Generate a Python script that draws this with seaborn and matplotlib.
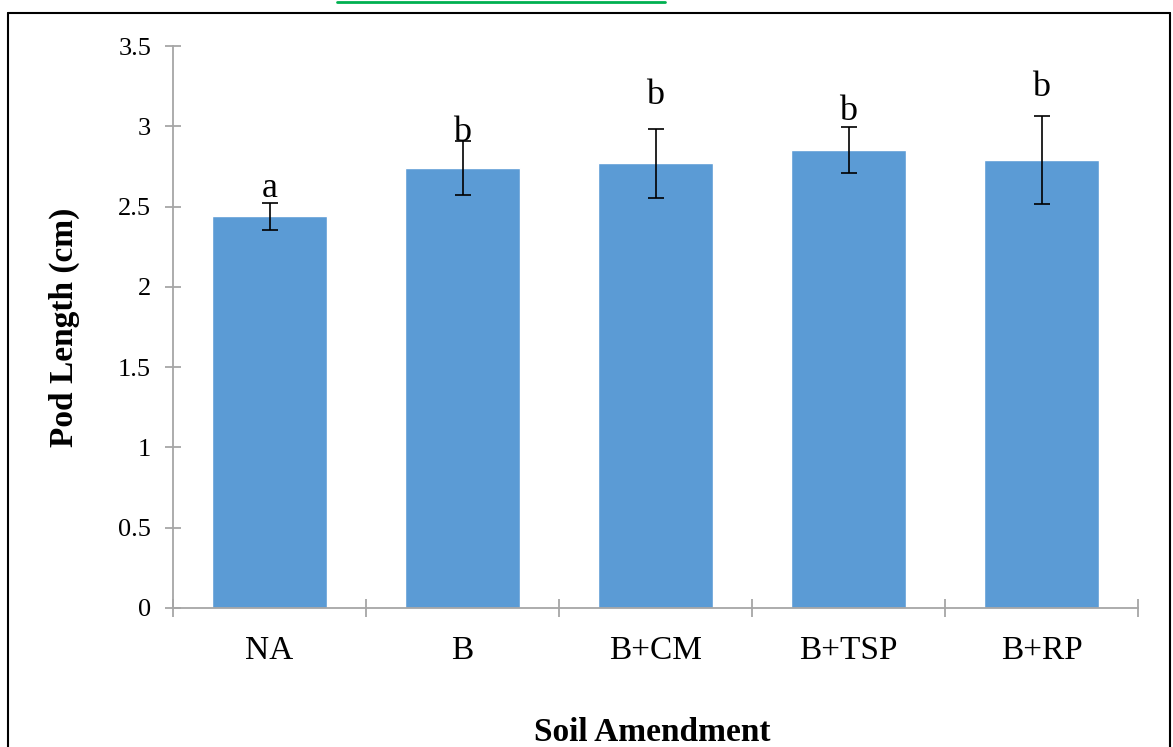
import matplotlib
matplotlib.use("Agg")
import matplotlib.pyplot as plt
from matplotlib.lines import Line2D
import seaborn as sns
import pandas as pd

# Pod length by soil amendment (mean ± error)
amendments = ["NA", "B", "B+CM", "B+TSP", "B+RP"]
pod_length = [2.44, 2.74, 2.77, 2.85, 2.79]
pod_error = [0.085, 0.17, 0.215, 0.143, 0.272]
letters = ["a", "b", "b", "b", "b"]
letter_y = [2.56, 2.91, 3.14, 3.04, 3.19]

sns.set_theme(style="white")
plt.rcParams["font.family"] = ["Liberation Serif", "DejaVu Serif"]
plt.rcParams["text.color"] = "black"
plt.rcParams["xtick.labelcolor"] = "black"
plt.rcParams["ytick.labelcolor"] = "black"

df = pd.DataFrame({"Soil Amendment": amendments, "Pod Length (cm)": pod_length})

fig = plt.figure(figsize=(11.73, 7.47), dpi=100)
ax = fig.add_axes([0.1475, 0.1861, 0.8227, 0.7523])

sns.barplot(data=df, x="Soil Amendment", y="Pod Length (cm)", color="#5b9bd5",
            saturation=1, width=0.6, errorbar=None, ax=ax)
ax.errorbar(range(len(amendments)), pod_length, yerr=pod_error, fmt="none",
            ecolor="black", elinewidth=1.2, capsize=6, capthick=1.2)

for i, (lab, yy) in enumerate(zip(letters, letter_y)):
    ax.text(i, yy, lab, ha="center", va="baseline", fontsize=26, color="black")

ax.set_xlim(-0.5, len(amendments) - 0.5)
ax.set_ylim(0, 3.5)
ax.set_yticks([0, 0.5, 1, 1.5, 2, 2.5, 3, 3.5])
ax.set_yticklabels(["0", "0.5", "1", "1.5", "2", "2.5", "3", "3.5"], fontsize=19)
ax.set_xticks(range(len(amendments)))
ax.set_xticklabels(amendments, fontsize=24)
ax.set_xticks([i - 0.5 for i in range(len(amendments) + 1)], minor=True)

axis_gray = "#a6a6a6"
for side in ["top", "right"]:
    ax.spines[side].set_visible(False)
for side in ["left", "bottom"]:
    ax.spines[side].set_color(axis_gray)
    ax.spines[side].set_linewidth(1.3)

ax.tick_params(axis="y", which="major", direction="inout", length=11.5, width=1.3,
               color=axis_gray, pad=10, left=True, labelcolor="black")
ax.tick_params(axis="x", which="major", length=0, pad=20, labelcolor="black")
ax.tick_params(axis="x", which="minor", direction="inout", length=13, width=1.3,
               color=axis_gray, bottom=True)

ax.set_xlabel("")
ax.set_ylabel("")
fig.text(0.0545, 0.562, "Pod Length (cm)", rotation=90, ha="center", va="center",
         fontsize=24, fontweight="bold", color="black")
fig.text(0.556, 0.0085, "Soil Amendment", ha="center", va="baseline",
         fontsize=24, fontweight="bold", color="black")

# Surrounding frame and the underline above it
W, H = 1173, 747
def fx(px):
    return px / W
def fy(py):
    return 1 - py / H
frame = dict(color="black", linewidth=1.5, transform=fig.transFigure)
fig.add_artist(Line2D([fx(8), fx(1170)], [fy(13), fy(13)], **frame))
fig.add_artist(Line2D([fx(8), fx(8)], [fy(13), 0], **frame))
fig.add_artist(Line2D([fx(1170), fx(1170)], [fy(13), 0], **frame))
fig.add_artist(Line2D([fx(337), fx(665)], [fy(2), fy(2)], color="#00b050",
                      linewidth=2, transform=fig.transFigure))

fig.savefig("out.png", dpi=100)
